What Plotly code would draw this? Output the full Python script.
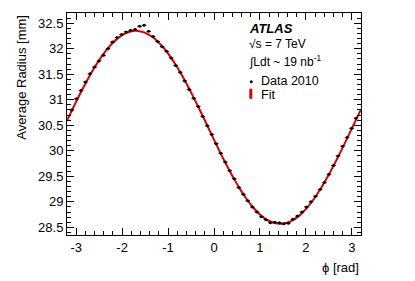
import plotly.graph_objects as go

# bin centres (rad)
phi = [-3.092, -2.994, -2.896, -2.798, -2.700, -2.601, -2.503, -2.405, -2.307, -2.209,
       -2.110, -2.012, -1.914, -1.816, -1.718, -1.620, -1.521, -1.423, -1.325, -1.227,
       -1.129, -1.031, -0.933, -0.834, -0.736, -0.638, -0.540, -0.442, -0.344, -0.245,
       -0.147, -0.049, 0.049, 0.147, 0.245, 0.344, 0.442, 0.540, 0.638, 0.736,
       0.834, 0.933, 1.031, 1.129, 1.227, 1.325, 1.423, 1.521, 1.620, 1.718,
       1.816, 1.914, 2.012, 2.110, 2.209, 2.307, 2.405, 2.503, 2.601, 2.700,
       2.798, 2.896, 2.994, 3.092]
half_bin = [0.049] * len(phi)

radius = [30.80, 31.02, 31.18, 31.35, 31.51, 31.64, 31.76, 31.87, 32.00, 32.13,
          32.22, 32.28, 32.33, 32.36, 32.38, 32.44, 32.46, 32.34, 32.24, 32.14,
          32.04, 31.95, 31.82, 31.67, 31.54, 31.37, 31.20, 31.03, 30.87, 30.67,
          30.49, 30.32, 30.14, 29.95, 29.78, 29.61, 29.45, 29.28, 29.15, 29.02,
          28.90, 28.80, 28.71, 28.65, 28.59, 28.60, 28.59, 28.57, 28.58, 28.66,
          28.72, 28.80, 28.90, 29.00, 29.11, 29.24, 29.38, 29.54, 29.71, 29.90,
          30.09, 30.26, 30.44, 30.64]
radius_err = [0.012] * len(phi)

# fit curve
phi_fit = [-3.2] + phi + [3.2]
r_fit = [30.594, 30.795, 30.976, 31.151, 31.320, 31.482, 31.632, 31.772, 31.899, 32.012, 32.111,
         32.193, 32.258, 32.307, 32.337, 32.350, 32.344, 32.320, 32.278, 32.219, 32.143,
         32.050, 31.943, 31.821, 31.685, 31.538, 31.381, 31.215, 31.042, 30.863, 30.679,
         30.495, 30.309, 30.125, 29.945, 29.769, 29.600, 29.440, 29.288, 29.148, 29.021,
         28.908, 28.810, 28.727, 28.662, 28.614, 28.583, 28.570, 28.576, 28.600, 28.642,
         28.701, 28.777, 28.870, 28.977, 29.099, 29.235, 29.382, 29.539, 29.705, 29.878,
         30.057, 30.241, 30.425, 30.611, 30.812]

x_range = [-3.2, 3.2]
y_range = [28.35, 32.70]

FONT = "Liberation Sans, Arial, Helvetica, sans-serif"

fig = go.Figure()
fig.add_trace(go.Scatter(
    x=phi_fit, y=r_fit, mode="lines", line=dict(color="#dd0000", width=2, shape="spline"),
    showlegend=False, hoverinfo="skip"))
fig.add_trace(go.Scatter(
    x=phi, y=radius, mode="markers",
    marker=dict(color="black", size=3),
    error_x=dict(type="data", array=half_bin, color="black", thickness=1, width=0),
    error_y=dict(type="data", array=radius_err, color="black", thickness=1, width=0),
    showlegend=False))

W, H = 415, 281
L, R, T, B = 66.7, 54.3, 13.3, 46
pw, ph = W - L - R, H - T - B

def px(x):
    return (x - L) / pw

def py(y):
    return (H - B - y) / ph

axis_common = dict(
    showgrid=False, zeroline=False, showline=True, linecolor="black", linewidth=1,
    mirror="allticks", ticks="inside", ticklen=7, tickcolor="black", tickwidth=1,
    tickfont=dict(family=FONT, size=13, color="black"),
)

fig.update_xaxes(range=x_range, tickmode="array", tickvals=[-3, -2, -1, 0, 1, 2, 3],
                 ticktext=["-3", "-2", "-1", "0", "1", "2", "3"],
                 minor=dict(dtick=0.2, tick0=0, ticks="inside", ticklen=4, tickcolor="black"),
                 **axis_common)
fig.update_yaxes(range=y_range, tickmode="array",
                 tickvals=[28.5, 29, 29.5, 30, 30.5, 31, 31.5, 32, 32.5],
                 ticktext=["28.5", "29", "29.5", "30", "30.5", "31", "31.5", "32", "32.5"],
                 minor=dict(dtick=0.1, tick0=28.5, ticks="inside", ticklen=4, tickcolor="black"),
                 **axis_common)

ann = []
ann.append(dict(text="Average Radius [mm]", textangle=-90, x=px(21), y=1.0,
                xanchor="center", yanchor="top", xref="paper", yref="paper", showarrow=False,
                font=dict(family=FONT, size=13, color="black")))
ann.append(dict(text="\u03d5 [rad]", x=1.0, y=py(267), xanchor="right", yanchor="middle",
                xref="paper", yref="paper", showarrow=False,
                font=dict(family=FONT, size=13, color="black")))
ann.append(dict(text="<b><i>ATLAS</i></b>", x=px(247), y=py(29), xanchor="left", yanchor="middle",
                xref="paper", yref="paper", showarrow=False,
                font=dict(family=FONT, size=13, color="black")))
ann.append(dict(text="\u221as = 7 TeV", x=px(247), y=py(44), xanchor="left", yanchor="middle",
                xref="paper", yref="paper", showarrow=False,
                font=dict(family=FONT, size=12, color="black")))
ann.append(dict(text="\u222bLdt ~ 19 nb<sup>-1</sup>", x=px(247), y=py(61), xanchor="left",
                yanchor="middle", xref="paper", yref="paper", showarrow=False,
                font=dict(family=FONT, size=12, color="black")))
ann.append(dict(text="Data 2010", x=px(259), y=py(81), xanchor="left", yanchor="middle",
                xref="paper", yref="paper", showarrow=False,
                font=dict(family=FONT, size=12.5, color="black")))
ann.append(dict(text="Fit", x=px(259), y=py(95), xanchor="left", yanchor="middle",
                xref="paper", yref="paper", showarrow=False,
                font=dict(family=FONT, size=12.5, color="black")))

shapes = [
    dict(type="circle", xref="paper", yref="paper", x0=px(249.5), x1=px(252.5),
         y0=py(83.5), y1=py(80.5), fillcolor="black", line=dict(width=0)),
    dict(type="rect", xref="paper", yref="paper", x0=px(249), x1=px(252),
         y0=py(99), y1=py(89), fillcolor="#dd0000", line=dict(width=0)),
]

fig.update_layout(
    width=W, height=H, margin=dict(l=L, r=R, t=T, b=B, pad=0),
    paper_bgcolor="white", plot_bgcolor="white",
    font=dict(family=FONT, size=13, color="black"),
    annotations=ann, shapes=shapes, showlegend=False,
)

fig.write_html("out.html", config={"displayModeBar": False},
               post_script="document.body.style.margin='0';document.body.style.padding='0';")
